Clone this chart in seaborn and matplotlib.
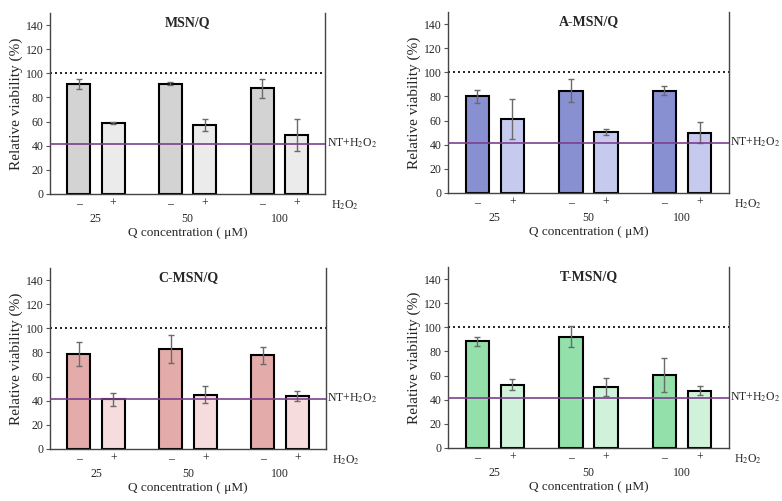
import numpy as np
import pandas as pd
import matplotlib
matplotlib.use("Agg")
import matplotlib.pyplot as plt
import matplotlib.transforms as mtransforms
import seaborn as sns

# data
concentrations = ["25", "50", "100"]
treatments = ["\u2013", "+"]   # without / with H2O2

msn_vals = [91.4, 58.9, 91.4, 57.5, 87.5, 48.9]
msn_errs = [4.0, 0.8, 1.2, 5.0, 8.0, 13.0]

amsn_vals = [80.0, 61.0, 84.8, 50.8, 84.8, 50.0]
amsn_errs = [5.5, 16.5, 9.5, 2.5, 3.7, 8.5]

cmsn_vals = [78.4, 41.2, 82.9, 44.8, 77.6, 43.9]
cmsn_errs = [10.0, 5.4, 11.7, 7.0, 7.2, 3.9]

tmsn_vals = [88.5, 52.5, 92.0, 50.5, 60.2, 47.5]
tmsn_errs = [3.7, 4.7, 8.7, 7.2, 14.0, 3.7]

control_level = 100
nt_h2o2_level = 41.7

sns.set_style("ticks")
plt.rcParams["font.family"] = ["Liberation Serif", "DejaVu Serif"]
plt.rcParams["mathtext.fontset"] = "stix"

PANELS = [
    # title, values, errors, colours (-, +), axes rect
    ("MSN/Q", msn_vals, msn_errs, ("#d3d3d3", "#ebebeb"), [0.064, 0.613, 0.352, 0.361]),
    ("A-MSN/Q", amsn_vals, amsn_errs, ("#8890d2", "#c6caee"), [0.573, 0.615, 0.359, 0.361]),
    ("C-MSN/Q", cmsn_vals, cmsn_errs, ("#e3aba9", "#f6dcdc"), [0.064, 0.104, 0.353, 0.361]),
    ("T-MSN/Q", tmsn_vals, tmsn_errs, ("#93e0ab", "#d0f2da"), [0.573, 0.106, 0.359, 0.361]),
]


def draw_panel(fig, title, vals, errs, colors, rect):
    ax = fig.add_axes(rect)
    df = pd.DataFrame({
        "conc": np.repeat(concentrations, 2),
        "h2o2": treatments * len(concentrations),
        "viability": vals,
        "err": errs,
    })

    sns.barplot(
        data=df, x="conc", y="viability", hue="h2o2",
        order=concentrations, hue_order=treatments,
        palette=list(colors), saturation=1, width=0.75, gap=0.33,
        edgecolor="black", linewidth=1.5,
        errorbar=None, legend=False, ax=ax,
    )

    # error bars at the bar centres seaborn placed
    centers, labels = [], []
    for h, container in zip(treatments, ax.containers):
        for conc, bar in zip(concentrations, container):
            row = df[(df["conc"] == conc) & (df["h2o2"] == h)].iloc[0]
            xc = bar.get_x() + bar.get_width() / 2
            ax.errorbar(xc, row["viability"], yerr=row["err"], fmt="none",
                        ecolor="#6a6a6a", elinewidth=1.0, capsize=2.5,
                        capthick=1.0, zorder=4)
            centers.append(xc)
            labels.append(h)

    # reference lines
    ax.axhline(control_level, color="black", linestyle=(0, (1.2, 1.8)), linewidth=1.2, zorder=1)
    ax.axhline(nt_h2o2_level, color="#7d3f8e", linewidth=1.2, zorder=5)
    trans = mtransforms.blended_transform_factory(ax.transAxes, ax.transData)
    ax.text(1.005, nt_h2o2_level, "NT+H$_2$O$_2$", transform=trans,
            va="center", ha="left", fontsize=8.5)

    ax.set_ylim(0, 150)
    ax.set_yticks(range(0, 141, 20))
    ax.set_xlim(-0.5, 2.5)

    ax.set_xticks(centers, minor=True)
    ax.set_xticklabels(labels, minor=True, fontsize=8.5)
    ax.set_xticks(range(len(concentrations)))
    ax.set_xticklabels(concentrations, fontsize=8.5)
    ax.tick_params(axis="x", which="both", length=0)
    ax.tick_params(axis="x", which="minor", pad=3)
    ax.tick_params(axis="x", which="major", pad=14)
    ax.tick_params(axis="y", length=3, width=0.8, labelsize=8.5, pad=1.5, color="#555555")

    ax.annotate("H$_2$O$_2$", xy=(1.02, 0), xycoords="axes fraction",
                xytext=(0, -3), textcoords="offset points",
                va="top", ha="left", fontsize=8.5)

    ax.text(0.5, 0.985, title, transform=ax.transAxes, ha="center", va="top",
            fontsize=10, fontweight="bold")

    ax.set_xlabel("Q concentration ( \u03bcM)", fontsize=9.5, labelpad=1)
    ax.set_ylabel("Relative viability (%)", fontsize=11, labelpad=2)

    ax.spines["top"].set_visible(False)
    for side in ["left", "right", "bottom"]:
        ax.spines[side].set_color("#444444")
        ax.spines[side].set_linewidth(1.0)
    return ax


fig = plt.figure(figsize=(7.82, 5.01), dpi=100)
for title, vals, errs, colors, rect in PANELS:
    draw_panel(fig, title, vals, errs, colors, rect)

fig.savefig("out.png", dpi=100)
